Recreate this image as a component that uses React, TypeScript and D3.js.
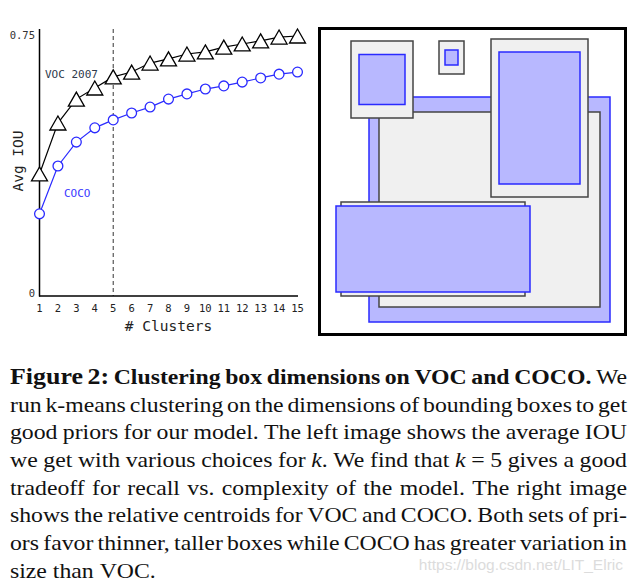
import React, { useEffect, useRef } from 'react';
import * as d3 from 'd3';

// ---------- Left plot data ----------
const clusters = [1, 2, 3, 4, 5, 6, 7, 8, 9, 10, 11, 12, 13, 14, 15];
const vocIOU = [0.352, 0.499, 0.568, 0.6, 0.632, 0.646, 0.672, 0.684, 0.698, 0.704, 0.718, 0.727, 0.736, 0.747, 0.75];
const cocoIOU = [0.237, 0.375, 0.444, 0.485, 0.508, 0.528, 0.545, 0.568, 0.583, 0.597, 0.606, 0.617, 0.629, 0.64, 0.646];
const yTicks = [0, 0.75];
const yTickLabels = ['0', '0.75'];
const chosenK = 5;
const seriesNames = ['VOC 2007', 'COCO'];

// ---------- Right panel: relative centroids (panel units, 307 x 306) ----------
const centroidCenters: [number, number][] = [[170.5, 180.5], [220.5, 89], [114, 220], [63, 50.5], [132.5, 28.5]];
const vocCentroids: [number, number][] = [[221, 195], [97, 158], [184, 94], [62, 77], [25, 33]];
const cocoCentroids: [number, number][] = [[241, 225], [81, 132], [194, 86], [46, 50], [13, 15]];

// ---------- Caption ----------
type Seg = [string, string];
const captionLines: Seg[][] = [
  [['Figure 2:', 'F'], [' Clustering box dimensions on VOC and COCO.', 'B'], [' We', 'R']],
  [['run k-means clustering on the dimensions of bounding boxes to get', 'R']],
  [['good priors for our model. The left image shows the average IOU', 'R']],
  [['we get with various choices for ', 'R'], ['k', 'I'], ['. We find that ', 'R'], ['k', 'I'], [' = 5 gives a good', 'R']],
  [['tradeoff for recall vs. complexity of the model. The right image', 'R']],
  [['shows the relative centroids for VOC and COCO. Both sets of pri-', 'R']],
  [['ors favor thinner, taller boxes while COCO has greater variation in', 'R']],
  [['size than VOC.', 'R']],
];
const watermark = 'https://blog.csdn.net/LIT_Elric';

type Run = { t: string; s: string };
function toWords(segs: Seg[]): Run[][] {
  const words: Run[][] = [];
  let cur: Run[] | null = null;
  segs.forEach(([text, s]) => {
    text.split(' ').forEach((p, i) => {
      if (i > 0) cur = null;
      if (!p) return;
      if (!cur) { cur = []; words.push(cur); }
      cur.push({ t: p, s });
    });
  });
  return words;
}

const MONO = '"DejaVu Sans Mono", monospace';
const SERIF = '"Liberation Serif", "Times New Roman", serif';

export default function App() {
  const capRef = useRef<SVGGElement>(null);

  const x = d3.scaleLinear().domain([1, 15]).range([39.5, 297.5]);
  const y = d3.scaleLinear().domain([0, 0.75]).range([296, 36]);
  const lineGen = d3.line<number>().x((_, i) => x(clusters[i])).y((d) => y(d));

  const px = d3.scaleLinear().domain([0, 307]).range([319, 626]);
  const py = d3.scaleLinear().domain([0, 306]).range([29, 335]);

  const tri = 'M0,-7L8,7L-8,7Z';

  useEffect(() => {
    const g = d3.select(capRef.current);
    g.selectAll('*').remove();
    const left = 10, right = 627, sx = 1.08, body = 22;
    const W = (right - left) / sx;
    const styleOf = (s: string) => ({
      size: s === 'F' ? 24 : body,
      weight: s === 'F' || s === 'B' ? 'bold' : 'normal',
      italic: s === 'I',
    });
    captionLines.forEach((segs, li) => {
      const words = toWords(segs);
      const base = 384 + li * 27.7;
      const nodes = words.map((runs) => {
        const t = g.append('text').attr('y', base).attr('font-family', SERIF).attr('fill', '#111');
        runs.forEach((r) => {
          const st = styleOf(r.s);
          t.append('tspan').text(r.t)
            .attr('font-size', st.size)
            .attr('font-weight', st.weight)
            .attr('font-style', st.italic ? 'italic' : 'normal');
        });
        return t;
      });
      const widths = nodes.map((n) => (n.node() as SVGTextElement).getComputedTextLength());
      const total = d3.sum(widths);
      const justify = li < captionLines.length - 1;
      const gap = justify ? (W - total) / (words.length - 1) : body * 0.25;
      let cx = 0;
      nodes.forEach((n, i) => { n.attr('x', cx); cx += widths[i] + gap; });
    });
  }, []);

  const pairs = centroidCenters.map((c, i) => {
    const boxes = [
      { w: vocCentroids[i][0], h: vocCentroids[i][1], kind: 'voc' },
      { w: cocoCentroids[i][0], h: cocoCentroids[i][1], kind: 'coco' },
    ].sort((a, b) => b.w * b.h - a.w * a.h);
    return { c, boxes };
  });

  return (
    <div style={{ position: 'absolute', left: 0, top: 0 }}>
      <svg width={633} height={583} style={{ display: 'block', background: '#fff' }}>
        {/* ---------- left plot ---------- */}
        <line x1={x(chosenK)} x2={x(chosenK)} y1={29} y2={296} stroke="#333" strokeWidth={1} strokeDasharray="4,3" />
        <line x1={39.5} x2={39.5} y1={29} y2={296.5} stroke="#000" strokeWidth={1.5} />
        <line x1={39} x2={298} y1={296} y2={296} stroke="#000" strokeWidth={1.5} />
        {yTicks.map((t, i) => (
          <text key={t} x={35} y={y(t) + (t === 0 ? 1 : 3)} textAnchor="end" fontFamily={MONO} fontSize={10.5} fill="#333">{yTickLabels[i]}</text>
        ))}
        {clusters.map((k) => (
          <text key={k} x={x(k)} y={312} textAnchor="middle" fontFamily={MONO} fontSize={10.5} fill="#222">{k}</text>
        ))}
        <text x={168.5} y={331} textAnchor="middle" fontFamily={MONO} fontSize={14.5} fill="#222"># Clusters</text>
        <text transform="translate(23,161) rotate(-90)" textAnchor="middle" fontFamily={MONO} fontSize={14.5} fill="#222">Avg IOU</text>

        <path d={lineGen(vocIOU) || ''} fill="none" stroke="#000" strokeWidth={1.2} />
        <path d={lineGen(cocoIOU) || ''} fill="none" stroke="#2b2bff" strokeWidth={1.2} />
        {vocIOU.map((v, i) => (
          <path key={'v' + i} d={tri} transform={`translate(${x(clusters[i])},${y(v)})`} fill="#fff" stroke="#000" strokeWidth={1.3} />
        ))}
        {cocoIOU.map((v, i) => (
          <circle key={'c' + i} cx={x(clusters[i])} cy={y(v)} r={4.9} fill="#fff" stroke="#2b2bff" strokeWidth={1.3} />
        ))}
        <text x={45} y={78} fontFamily={MONO} fontSize={11} fill="#2e3a4c">{seriesNames[0]}</text>
        <text x={64} y={197} fontFamily={MONO} fontSize={11} fill="#3a3aff">{seriesNames[1]}</text>

        {/* ---------- right panel ---------- */}
        <rect x={319.5} y={28.5} width={306} height={306} fill="#fff" stroke="#000" strokeWidth={3} />
        {pairs.map((p, i) => (
          <g key={i}>
            {p.boxes.map((b) => (
              <rect key={b.kind}
                x={px(p.c[0] - b.w / 2)} y={py(p.c[1] - b.h / 2)}
                width={px(b.w) - px(0)} height={py(b.h) - py(0)}
                fill={b.kind === 'voc' ? '#f0f0f0' : '#b8b8ff'}
                stroke={b.kind === 'voc' ? '#444' : '#2a2aff'}
                strokeWidth={1.5} />
            ))}
          </g>
        ))}

        {/* ---------- caption ---------- */}
        <g ref={capRef} transform="translate(10,0) scale(1.08,1)" />
        <text x={623} y={570} textAnchor="end" fontFamily='"Liberation Sans", Arial, sans-serif' fontSize={15.5} fill="#dcdcdc">{watermark}</text>
      </svg>
    </div>
  );
}
